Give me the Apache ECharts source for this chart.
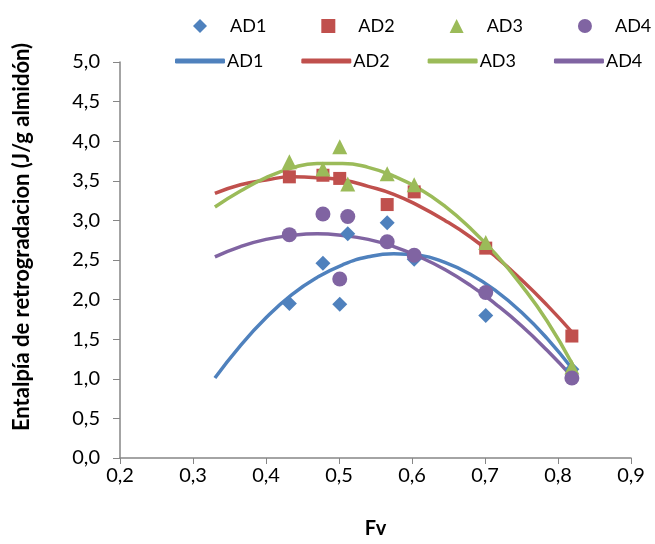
<!DOCTYPE html>
<html>
<head>
<meta charset="utf-8">
<script src="https://cdn.jsdelivr.net/npm/echarts@6/dist/echarts.min.js"></script>
<style>
  html, body { margin: 0; padding: 0; background: #fff; }
  #chart { width: 655px; height: 544px; }
</style>
</head>
<body>
<div id="chart"></div>
<script>
// measured points (Fv vs enthalpy)
var fv = [0.432, 0.478, 0.501, 0.512, 0.566, 0.603, 0.701, 0.819];
var ad1 = [1.95, 2.46, 1.94, 2.83, 2.97, 2.51, 1.80, 1.12];
var ad2 = [3.55, 3.57, 3.53, null, 3.20, 3.36, 2.65, 1.54];
var ad3 = [3.74, 3.65, 3.93, 3.46, 3.59, 3.45, 2.72, 1.15];
var ad4 = [2.82, 3.08, 2.26, 3.05, 2.73, 2.56, 2.09, 1.01];

// trend lines
var fitX = [0.33, 0.365, 0.40, 0.435, 0.47, 0.505, 0.54, 0.575, 0.61, 0.645, 0.68, 0.715, 0.75, 0.785, 0.82];
var fitAD1 = [1.01, 1.42, 1.77, 2.06, 2.28, 2.44, 2.54, 2.58, 2.56, 2.47, 2.32, 2.11, 1.84, 1.51, 1.12];
var fitAD2 = [3.34, 3.45, 3.51, 3.55, 3.54, 3.51, 3.43, 3.33, 3.18, 3.00, 2.79, 2.54, 2.25, 1.93, 1.58];
var fitAD3 = [3.17, 3.37, 3.54, 3.66, 3.72, 3.72, 3.67, 3.56, 3.40, 3.18, 2.90, 2.57, 2.18, 1.73, 1.18];
var fitAD4 = [2.54, 2.67, 2.76, 2.81, 2.83, 2.81, 2.76, 2.67, 2.54, 2.38, 2.18, 1.94, 1.67, 1.36, 1.02];

var names = ["AD1", "AD2", "AD3", "AD4"];
var colors = ["#4F81BD", "#C0504D", "#9BBB59", "#8064A2"];
var symbols = ["diamond", "rect", "triangle", "circle"];
var sizes = [15, 13, 15, 15];

function pairs(xs, ys) {
  var out = [];
  for (var i = 0; i < xs.length; i++) {
    if (ys[i] != null) out.push([xs[i], ys[i]]);
  }
  return out;
}

function comma(v) {
  return v.toFixed(1).replace(".", ",");
}

var points = [ad1, ad2, ad3, ad4];
var fits = [fitAD1, fitAD2, fitAD3, fitAD4];
var series = [];
names.forEach(function (n, i) {
  series.push({
    name: n + " fit",
    type: "line",
    smooth: true,
    symbol: "none",
    z: 2,
    lineStyle: { color: colors[i], width: 3.5 },
    itemStyle: { color: colors[i] },
    data: pairs(fitX, fits[i])
  });
});
names.forEach(function (n, i) {
  series.push({
    name: n,
    type: "scatter",
    symbol: symbols[i],
    symbolSize: sizes[i],
    z: 3,
    itemStyle: { color: colors[i], opacity: 1 },
    data: pairs(fv, points[i])
  });
});

var font = "Lato";
var chart = echarts.init(document.getElementById("chart"));
chart.setOption({
  animation: false,
  textStyle: { fontFamily: font },
  legend: [
    {
      data: names,
      left: 193,
      top: 17,
      width: 460,
      padding: 0,
      itemWidth: 14,
      itemHeight: 14,
      itemGap: 55,
      formatter: function (n) { return "{t|" + n + "}"; },
      textStyle: {
        fontSize: 18, color: "#000", fontFamily: font,
        rich: { t: { padding: [0, 0, 0, 18], fontSize: 18, fontFamily: font } }
      }
    },
    {
      data: names.map(function (n) { return { name: n + " fit", icon: "roundRect" }; }),
      formatter: function (n) { return "{t|" + n.split(" ")[0] + "}"; },
      left: 175,
      top: 52,
      width: 478,
      padding: 0,
      itemWidth: 50,
      itemHeight: 5,
      itemGap: 38,
      textStyle: {
        fontSize: 18, color: "#000", fontFamily: font,
        rich: { t: { padding: [0, 0, 0, -3], fontSize: 18, fontFamily: font } }
      }
    }
  ],
  graphic: [
    {
      type: "text",
      x: 22,
      y: 237,
      rotation: Math.PI / 2,
      style: {
        text: "Entalpía de retrogradacion (J/g almidón)",
        font: "bold 22px Lato",
        fill: "#000",
        textAlign: "center",
        textVerticalAlign: "middle"
      }
    }
  ],
  grid: { left: 120, right: 24, top: 62, bottom: 86 },
  xAxis: {
    type: "value",
    min: 0.2,
    max: 0.9,
    interval: 0.1,
    name: "Fv",
    nameLocation: "middle",
    nameGap: 61,
    nameTextStyle: { fontSize: 20, fontWeight: "bold", color: "#000", fontFamily: font },
    axisLine: { lineStyle: { color: "#868686", width: 1.5 } },
    axisTick: { show: true, length: 6, lineStyle: { color: "#868686" } },
    splitLine: { show: false },
    axisLabel: { fontSize: 20, color: "#000", margin: 8, formatter: comma }
  },
  yAxis: {
    type: "value",
    min: 0,
    max: 5,
    interval: 0.5,
    axisLine: { show: true, lineStyle: { color: "#868686", width: 1.5 } },
    axisTick: { show: true, length: 7, lineStyle: { color: "#868686" } },
    splitLine: { show: false },
    axisLabel: { fontSize: 20, color: "#000", margin: 20, formatter: comma }
  },
  series: series
});
</script>
</body>
</html>
